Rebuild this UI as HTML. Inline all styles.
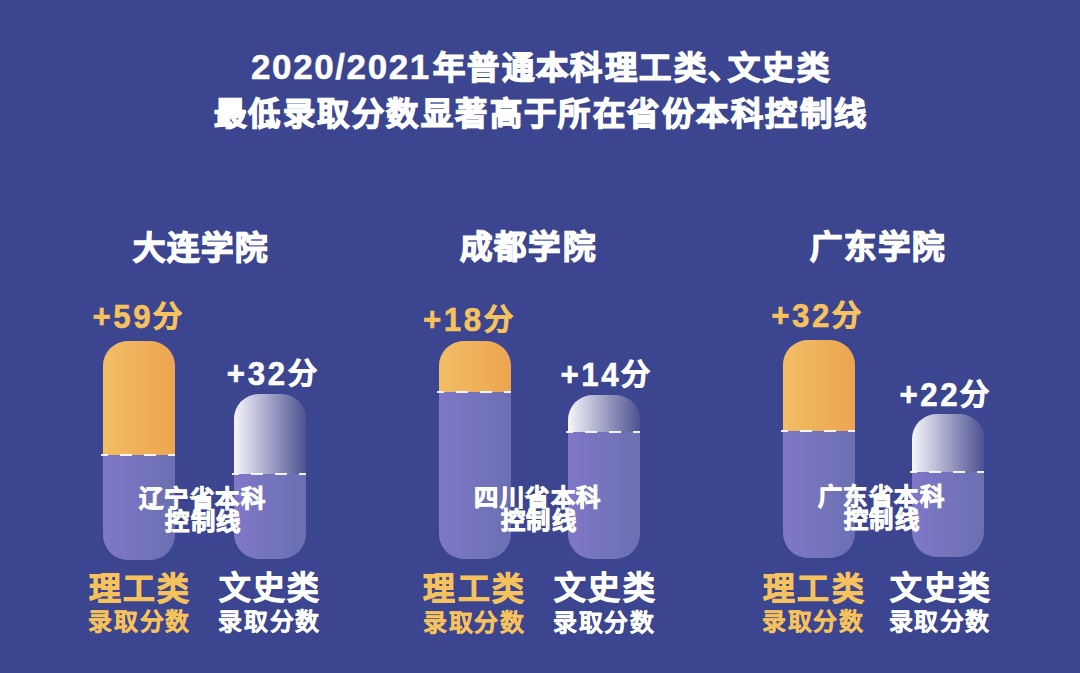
<!DOCTYPE html>
<html lang="zh-CN"><head><meta charset="utf-8"><style>
html,body{margin:0;padding:0}
body{width:1080px;height:673px;overflow:hidden;position:relative;background:#3c458f;font-family:"Liberation Sans",sans-serif;font-weight:bold;color:#fff}
.t{position:absolute;white-space:nowrap;transform-origin:0 0}
.or{color:#f5c25e}
.cw{position:absolute;width:72px}
.cap{position:absolute;left:0;top:0;width:72px;border-radius:25px;overflow:hidden;background:linear-gradient(90deg,#7f78c8,#6b6fb1)}
.o{background:linear-gradient(90deg,#f2be66,#eca450)}
.g{background:linear-gradient(90deg,#f6f6fb 0%,#a9aacb 45%,#4c5190 100%)}
.dash{position:absolute;left:-2px;width:74px;height:2px;background:repeating-linear-gradient(90deg,rgba(255,255,255,.9) 0,rgba(255,255,255,.9) 12.5px,transparent 12.5px,transparent 24px);background-position:-5px 0}
</style></head><body>
<div class="cw" style="left:103px;top:341px;height:219px"><div class="cap" style="height:219px"><div class="o" style="height:113.5px"></div></div><div class="dash" style="top:112.5px"></div></div>
<div class="cw" style="left:234px;top:394px;height:165px"><div class="cap" style="height:165px"><div class="g" style="height:80px"></div></div><div class="dash" style="top:79px"></div></div>
<div class="cw" style="left:439px;top:340.5px;height:218.5px"><div class="cap" style="height:218.5px"><div class="o" style="height:51.5px"></div></div><div class="dash" style="top:50.5px"></div></div>
<div class="cw" style="left:568px;top:395px;height:164px"><div class="cap" style="height:164px"><div class="g" style="height:36.69999999999999px"></div></div><div class="dash" style="top:35.69999999999999px"></div></div>
<div class="cw" style="left:782.5px;top:340px;height:218px"><div class="cap" style="height:218px"><div class="o" style="height:91px"></div></div><div class="dash" style="top:90px"></div></div>
<div class="cw" style="left:912px;top:413.8px;height:143.2px"><div class="cap" style="height:143.2px"><div class="g" style="height:58.19999999999999px"></div></div><div class="dash" style="top:57.19999999999999px"></div></div>
<div id="title1d" class="t" style="left:251.0px;top:48.95px;font-size:35px;line-height:35px;letter-spacing:1.6px;-webkit-text-stroke:0.5px currentColor">2020/2021</div>
<div id="title1c" class="t" style="left:432.65px;top:52.3px;font-size:32.29px;line-height:32.29px;letter-spacing:2.45px;-webkit-text-stroke:1.3px currentColor">年普通本科理工类<span style="margin-right:-15px">、</span>文史类</div>
<div id="title2" class="t" style="left:214.0px;top:98.0px;font-size:32.29px;line-height:32.29px;letter-spacing:2.45px;-webkit-text-stroke:1.3px currentColor">最低录取分数显著高于所在省份本科控制线</div>
<div id="h1" class="t" style="left:132.7px;top:231.5px;font-size:32.36px;line-height:32.36px;letter-spacing:2.2px;-webkit-text-stroke:1.4px currentColor">大连学院</div>
<div id="h2" class="t" style="left:460.0px;top:231.25px;font-size:32.36px;line-height:32.36px;letter-spacing:2.2px;-webkit-text-stroke:1.4px currentColor">成都学院</div>
<div id="h3" class="t" style="left:809.5px;top:231.25px;font-size:32.36px;line-height:32.36px;letter-spacing:2.2px;-webkit-text-stroke:1.4px currentColor">广东学院</div>
<div id="o1" class="t or" style="left:92.5px;top:300.9px;font-size:31.27px;line-height:31.27px;letter-spacing:2.6px;-webkit-text-stroke:0.9px currentColor"><span style="-webkit-text-stroke-width:0.5px;display:inline-block;transform:scaleY(1.09);transform-origin:50% 62%">+59</span><span style="font-size:0.93em">分</span></div>
<div id="o2" class="t or" style="left:423.0px;top:303.5px;font-size:31.27px;line-height:31.27px;letter-spacing:2.6px;-webkit-text-stroke:0.9px currentColor"><span style="-webkit-text-stroke-width:0.5px;display:inline-block;transform:scaleY(1.09);transform-origin:50% 62%">+18</span><span style="font-size:0.93em">分</span></div>
<div id="o3" class="t or" style="left:771.2px;top:300.3px;font-size:31.27px;line-height:31.27px;letter-spacing:2.6px;-webkit-text-stroke:0.9px currentColor"><span style="-webkit-text-stroke-width:0.5px;display:inline-block;transform:scaleY(1.09);transform-origin:50% 62%">+32</span><span style="font-size:0.93em">分</span></div>
<div id="g1" class="t" style="left:226.8px;top:357.5px;font-size:31.27px;line-height:31.27px;letter-spacing:2.6px;-webkit-text-stroke:0.9px currentColor"><span style="-webkit-text-stroke-width:0.5px;display:inline-block;transform:scaleY(1.09);transform-origin:50% 62%">+32</span><span style="font-size:0.93em">分</span></div>
<div id="g2" class="t" style="left:560.5px;top:359.3px;font-size:31.27px;line-height:31.27px;letter-spacing:2.6px;-webkit-text-stroke:0.9px currentColor"><span style="-webkit-text-stroke-width:0.5px;display:inline-block;transform:scaleY(1.09);transform-origin:50% 62%">+14</span><span style="font-size:0.93em">分</span></div>
<div id="g3" class="t" style="left:899.5px;top:379.3px;font-size:31.27px;line-height:31.27px;letter-spacing:2.6px;-webkit-text-stroke:0.9px currentColor"><span style="-webkit-text-stroke-width:0.5px;display:inline-block;transform:scaleY(1.09);transform-origin:50% 62%">+22</span><span style="font-size:0.93em">分</span></div>
<div id="c1a" class="t" style="left:138.7px;top:486.7px;font-size:24.31px;line-height:24.31px;letter-spacing:1.6px;-webkit-text-stroke:0.9px currentColor">辽宁省本科</div>
<div id="c1b" class="t" style="left:165.2px;top:509.6px;font-size:24.29px;line-height:24.29px;letter-spacing:1.6px;-webkit-text-stroke:0.9px currentColor">控制线</div>
<div id="c2a" class="t" style="left:474.0px;top:485.5px;font-size:24.31px;line-height:24.31px;letter-spacing:1.6px;-webkit-text-stroke:0.9px currentColor">四川省本科</div>
<div id="c2b" class="t" style="left:500.5px;top:508.5px;font-size:24.29px;line-height:24.29px;letter-spacing:1.6px;-webkit-text-stroke:0.9px currentColor">控制线</div>
<div id="c3a" class="t" style="left:817.7px;top:485.0px;font-size:24.31px;line-height:24.31px;letter-spacing:1.6px;-webkit-text-stroke:0.9px currentColor">广东省本科</div>
<div id="c3b" class="t" style="left:843.5px;top:508.0px;font-size:24.29px;line-height:24.29px;letter-spacing:1.6px;-webkit-text-stroke:0.9px currentColor">控制线</div>
<div id="l1" class="t or" style="left:88.6px;top:574.25px;font-size:31.8px;line-height:31.8px;letter-spacing:2.2px;-webkit-text-stroke:0.9px currentColor">理工类</div>
<div id="l2" class="t or" style="left:423.4px;top:573.95px;font-size:31.8px;line-height:31.8px;letter-spacing:2.2px;-webkit-text-stroke:0.9px currentColor">理工类</div>
<div id="l3" class="t or" style="left:763.25px;top:573.9px;font-size:31.8px;line-height:31.8px;letter-spacing:2.2px;-webkit-text-stroke:0.9px currentColor">理工类</div>
<div id="s1" class="t or" style="left:88.45px;top:610.4px;font-size:23.89px;line-height:23.89px;letter-spacing:1.6px;-webkit-text-stroke:0.4px currentColor">录取分数</div>
<div id="s2" class="t or" style="left:423.15px;top:610.55px;font-size:23.89px;line-height:23.89px;letter-spacing:1.6px;-webkit-text-stroke:0.4px currentColor">录取分数</div>
<div id="s3" class="t or" style="left:762.25px;top:609.9px;font-size:23.89px;line-height:23.89px;letter-spacing:1.6px;-webkit-text-stroke:0.4px currentColor">录取分数</div>
<div id="r1" class="t" style="left:219.05px;top:573.15px;font-size:31.8px;line-height:31.8px;letter-spacing:2.2px;-webkit-text-stroke:0.9px currentColor">文史类</div>
<div id="r2" class="t" style="left:554.2px;top:573.15px;font-size:31.8px;line-height:31.8px;letter-spacing:2.2px;-webkit-text-stroke:0.9px currentColor">文史类</div>
<div id="r3" class="t" style="left:890.0px;top:573.15px;font-size:31.8px;line-height:31.8px;letter-spacing:2.2px;-webkit-text-stroke:0.9px currentColor">文史类</div>
<div id="rs1" class="t" style="left:218.35px;top:609.9px;font-size:23.89px;line-height:23.89px;letter-spacing:1.6px;-webkit-text-stroke:0.4px currentColor">录取分数</div>
<div id="rs2" class="t" style="left:553.15px;top:610.7px;font-size:23.89px;line-height:23.89px;letter-spacing:1.6px;-webkit-text-stroke:0.4px currentColor">录取分数</div>
<div id="rs3" class="t" style="left:888.5px;top:610.4px;font-size:23.89px;line-height:23.89px;letter-spacing:1.6px;-webkit-text-stroke:0.4px currentColor">录取分数</div>
</body></html>
